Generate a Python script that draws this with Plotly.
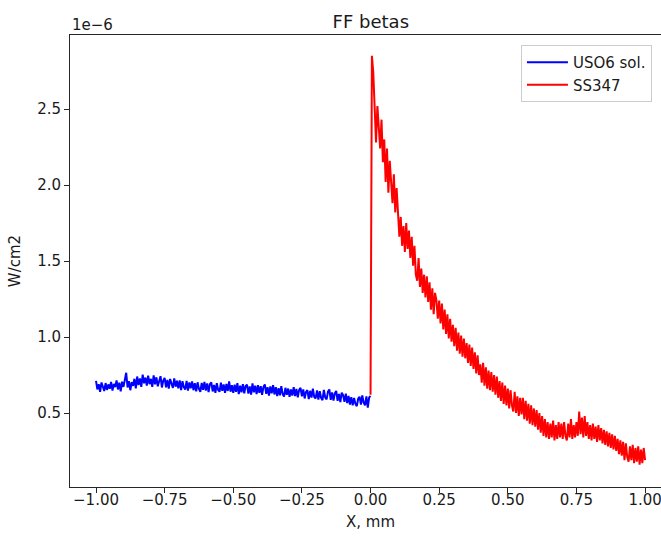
import numpy as np
import plotly.graph_objects as go

# Beta flux profiles across the interface, in units of 1e-6 W/cm2
x_uso6 = np.round(np.linspace(-1.0, 0.0, 201), 3)
flux_uso6 = [
    0.712, 0.655, 0.690, 0.640, 0.701, 0.668, 0.645, 0.697, 0.652, 0.688,
    0.660, 0.705, 0.648, 0.692, 0.671, 0.714, 0.655, 0.699, 0.642, 0.706,
    0.672, 0.718, 0.765, 0.668, 0.710, 0.650, 0.703, 0.679, 0.725, 0.662,
    0.740, 0.684, 0.728, 0.672, 0.752, 0.695, 0.733, 0.681, 0.746, 0.690,
    0.725, 0.672, 0.748, 0.688, 0.735, 0.676, 0.719, 0.742, 0.668, 0.714,
    0.731, 0.669, 0.718, 0.661, 0.724, 0.690, 0.665, 0.728, 0.673, 0.712,
    0.662, 0.715, 0.651, 0.709, 0.670, 0.654, 0.712, 0.648, 0.701, 0.663,
    0.708, 0.650, 0.697, 0.643, 0.702, 0.659, 0.640, 0.698, 0.652, 0.705,
    0.648, 0.695, 0.637, 0.690, 0.702, 0.642, 0.685, 0.633, 0.696, 0.651,
    0.640, 0.700, 0.646, 0.688, 0.633, 0.692, 0.645, 0.708, 0.640, 0.683,
    0.632, 0.686, 0.640, 0.697, 0.625, 0.680, 0.636, 0.690, 0.629, 0.677,
    0.686, 0.628, 0.675, 0.621, 0.695, 0.636, 0.680, 0.624, 0.683, 0.633,
    0.677, 0.620, 0.672, 0.688, 0.626, 0.670, 0.614, 0.675, 0.629, 0.683,
    0.622, 0.670, 0.611, 0.663, 0.617, 0.677, 0.624, 0.608, 0.666, 0.620,
    0.661, 0.606, 0.655, 0.615, 0.670, 0.612, 0.658, 0.603, 0.652, 0.665,
    0.610, 0.655, 0.596, 0.638, 0.650, 0.592, 0.646, 0.601, 0.660, 0.605,
    0.596, 0.648, 0.588, 0.643, 0.600, 0.584, 0.652, 0.602, 0.590, 0.641,
    0.655, 0.587, 0.636, 0.582, 0.629, 0.645, 0.580, 0.626, 0.572, 0.634,
    0.618, 0.574, 0.627, 0.565, 0.612, 0.556, 0.604, 0.550, 0.599, 0.560,
    0.545, 0.594, 0.607, 0.556, 0.616, 0.568, 0.551, 0.610, 0.536, 0.603,
    0.612,
]

x_ss347 = np.round(np.linspace(0.0, 1.0, 201), 3)
flux_ss347 = [
    0.62, 2.85, 2.74, 2.47, 2.28, 2.52, 2.33, 2.24, 2.43, 2.15,
    2.30, 2.02, 2.24, 1.95, 2.16, 2.00, 1.88, 2.07, 1.82, 1.98,
    1.80, 1.66, 1.79, 1.60, 1.73, 1.56, 1.75, 1.58, 1.70, 1.52,
    1.66, 1.47, 1.60, 1.41, 1.37, 1.52, 1.33, 1.45, 1.29, 1.41,
    1.26, 1.40, 1.23, 1.36, 1.18, 1.32, 1.15, 1.29, 1.24, 1.12,
    1.24, 1.09, 1.22, 1.05, 1.18, 1.02, 1.15, 0.99, 1.12, 0.97,
    1.08, 0.94, 1.06, 0.91, 1.03, 0.89, 1.01, 0.87, 0.99, 0.86,
    0.96, 0.83, 0.95, 0.81, 0.93, 0.79, 0.90, 0.76, 0.88, 0.75,
    0.82, 0.70, 0.83, 0.68, 0.80, 0.66, 0.78, 0.65, 0.77, 0.64,
    0.75, 0.62, 0.74, 0.60, 0.71, 0.58, 0.70, 0.56, 0.68, 0.55,
    0.66, 0.53, 0.65, 0.55, 0.51, 0.64, 0.50, 0.61, 0.48, 0.60,
    0.49, 0.60, 0.46, 0.58, 0.45, 0.56, 0.43, 0.55, 0.42, 0.53,
    0.41, 0.52, 0.39, 0.50, 0.37, 0.48, 0.35, 0.46, 0.34, 0.44,
    0.33, 0.43, 0.34, 0.45, 0.32, 0.42, 0.33, 0.44, 0.34, 0.43,
    0.33, 0.44, 0.35, 0.32, 0.43, 0.34, 0.46, 0.33, 0.42, 0.34,
    0.44, 0.35, 0.51, 0.36, 0.47, 0.34, 0.48, 0.35, 0.44, 0.33,
    0.42, 0.32, 0.43, 0.33, 0.41, 0.31, 0.42, 0.32, 0.40, 0.30,
    0.39, 0.29, 0.38, 0.28, 0.37, 0.27, 0.36, 0.26, 0.35, 0.25,
    0.33, 0.23, 0.32, 0.22, 0.31, 0.19, 0.30, 0.21, 0.18, 0.28,
    0.19, 0.29, 0.17, 0.27, 0.18, 0.28, 0.16, 0.26, 0.17, 0.27,
    0.19,
]

x_ticks = [-1.0, -0.75, -0.5, -0.25, 0.0, 0.25, 0.5, 0.75, 1.0]
y_ticks = [0.5, 1.0, 1.5, 2.0, 2.5]

FONT = "DejaVu Sans"
AXIS_COLOR = "#262626"
TEXT_COLOR = "#1a1a1a"

fig = go.Figure()
fig.add_trace(go.Scatter(x=x_uso6, y=flux_uso6, mode="lines", name="USO6 sol.",
                         line=dict(color="#0000ff", width=2)))
fig.add_trace(go.Scatter(x=x_ss347, y=flux_ss347, mode="lines", name="SS347",
                         line=dict(color="#ff0000", width=2)))

axis_common = dict(
    showgrid=False, zeroline=False, showline=True, linecolor=AXIS_COLOR,
    linewidth=1, ticks="outside", ticklen=5, tickwidth=1, tickcolor=AXIS_COLOR,
    tickfont=dict(family=FONT, size=15, color=TEXT_COLOR),
    ticklabeloverflow="allow",
)

fig.update_layout(
    width=661, height=538,
    margin=dict(l=70, r=0, t=35, b=51),
    paper_bgcolor="white", plot_bgcolor="white",
    font=dict(family=FONT, color=TEXT_COLOR),
    title=dict(text="FF betas", x=0.509, xref="paper", xanchor="center",
               y=1 - 22 / 538, yref="container", yanchor="middle",
               font=dict(family=FONT, size=18, color=TEXT_COLOR)),
    xaxis=dict(range=[-1.0947, 1.058], tickvals=x_ticks,
               ticktext=[f"{v:.2f}".replace("-", "\u2212") for v in x_ticks],
               mirror=True, ticklabelstandoff=-6, **axis_common),
    yaxis=dict(range=[0.0132, 2.987], tickvals=y_ticks,
               ticktext=[f"{v:.1f}" for v in y_ticks],
               title=dict(text="W/cm2", font=dict(family=FONT, size=15), standoff=12),
               **axis_common),
    legend=dict(x=0.763, y=0.978, xanchor="left", yanchor="top",
                bgcolor="rgba(255,255,255,0.8)", bordercolor="#cccccc", borderwidth=1,
                font=dict(family=FONT, size=15, color=TEXT_COLOR), itemwidth=41),
    annotations=[
        dict(text="1e\u22126", xref="paper", yref="paper", x=0.0, y=1.022,
             xanchor="left", yanchor="middle", showarrow=False,
             font=dict(family=FONT, size=15, color=TEXT_COLOR)),
        dict(text="X, mm", xref="paper", yref="paper", x=0.509, y=-0.078,
             xanchor="center", yanchor="middle", showarrow=False,
             font=dict(family=FONT, size=15, color=TEXT_COLOR)),
    ],
)

fig.write_html("out.html")
